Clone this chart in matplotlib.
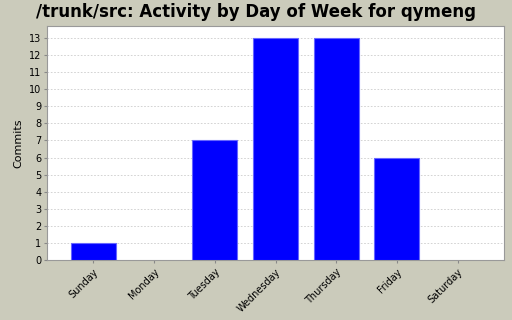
import matplotlib
matplotlib.use('Agg')
import matplotlib.pyplot as plt

days = ['Sunday', 'Monday', 'Tuesday', 'Wednesday', 'Thursday', 'Friday', 'Saturday']
commits = [1, 0, 7, 13, 13, 6, 0]

bg = '#cbcbbb'
fig = plt.figure(figsize=(5.12, 3.2), dpi=100, facecolor=bg)
ax = fig.add_axes([47 / 512, 1 - 260 / 320, 457 / 512, 234 / 320])
ax.set_facecolor('white')

x = list(range(len(days)))
widths = [0.8 if c > 0 else 0 for c in commits]
ax.bar(x, commits, width=0.74, color='#0000ff', edgecolor='#6666ff', linewidth=widths, zorder=3)

ax.set_xlim(-0.765, 6.765)
ax.set_ylim(0, 13.7)
ax.set_yticks(range(0, 14))
ax.set_xticks(x)
ax.set_xticklabels(days, rotation=45, ha='right', rotation_mode='anchor', fontsize=7)
ax.tick_params(axis='y', labelsize=7, length=2, color='#888888', pad=2)
ax.tick_params(axis='x', length=2, color='#888888', pad=3)
ax.grid(axis='y', color='#cccccc', linestyle=(0, (2, 2)), linewidth=0.6, zorder=0)
for s in ax.spines.values():
    s.set_color('#999999')

ax.set_ylabel('Commits', fontsize=8)
fig.text(0.5, 1 - 12 / 320, '/trunk/src: Activity by Day of Week for qymeng',
         ha='center', va='center', fontsize=12, fontweight='bold')

fig.savefig('out.png', dpi=100, facecolor=bg)
